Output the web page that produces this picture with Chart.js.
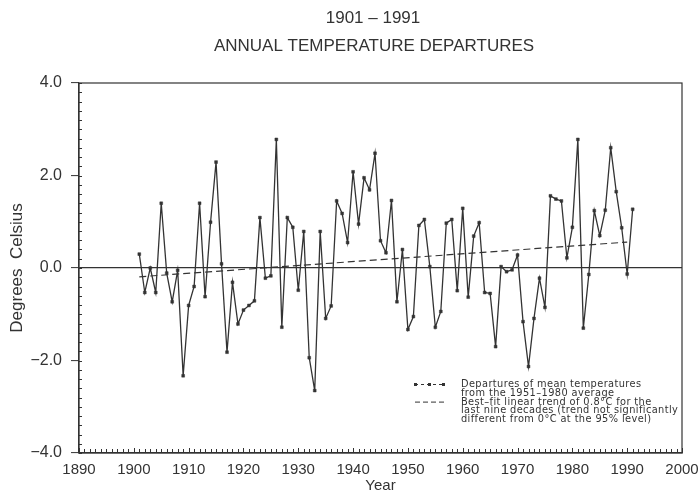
<!DOCTYPE html>
<html>
<head>
<meta charset="utf-8">
<script src="https://cdn.jsdelivr.net/npm/chart.js@4.4.1/dist/chart.umd.min.js"></script>
<style>
  body { margin: 0; background: #fff; }
  canvas { display: block; }
</style>
</head>
<body>
<canvas id="myChart" width="700" height="495"></canvas>
<script>
// 1, 데이터

    // 연도 (1901 ~ 1991)
    let years = [];
    for (let y = 1901; y <= 1991; y++) years.push(y);

    // 1951-1980 평균 대비 연평균기온 편차
    let departures = [
        0.30, -0.53, 0.00, -0.53, 1.40, -0.11, -0.73, -0.05, -2.33, -0.81,
        -0.40, 1.40, -0.62, 0.99, 2.29, 0.09, -1.82, -0.31, -1.21, -0.91,
        -0.81, -0.71, 1.09, -0.22, -0.17, 2.78, -1.28, 1.09, 0.88, -0.48,
        0.79, -1.94, -2.65, 0.79, -1.09, -0.82, 1.45, 1.18, 0.55, 2.08,
        0.95, 1.95, 1.69, 2.48, 0.59, 0.33, 1.46, -0.73, 0.40, -1.33,
        -1.05, 0.92, 1.05, 0.03, -1.28, -0.94, 0.97, 1.05, -0.49, 1.29,
        -0.63, 0.69, 0.98, -0.53, -0.55, -1.70, 0.03, -0.08, -0.04, 0.28,
        -1.16, -2.13, -1.09, -0.22, -0.85, 1.56, 1.49, 1.45, 0.22, 0.88,
        2.78, -1.30, -0.14, 1.24, 0.70, 1.25, 2.60, 1.65, 0.87, -0.13,
        1.27
    ];

    // 선형추세선 양 끝점
    let trendYears = [1901, 1990];
    let trendValues = [-0.19, 0.56];

    // 축 눈금
    let xTicks = [1890, 1900, 1910, 1920, 1930, 1940, 1950, 1960, 1970, 1980, 1990, 2000];
    let yTicks = [-4, -2, 0, 2, 4];

    // 제목, 범례 문구
    let titleLines = ['1901 \u2013 1991', 'ANNUAL TEMPERATURE DEPARTURES'];
    let legendLines = [
        'Departures of mean temperatures',
        'from the 1951\u20131980 average',
        'Best\u2013fit linear trend of 0.8\u00b0C for the',
        'last nine decades (trend not significantly',
        'different from 0\u00b0C at the 95% level)'
    ];

    let ink = '#333';
    let fontFam = "'Liberation Sans', Arial, sans-serif";

// 2, 플러그인 (제목, 테두리, 안쪽 눈금, 범례)

    let framePlugin = {
        id: 'frame',
        afterDraw(chart) {
            let ctx = chart.ctx;
            let a = chart.chartArea;
            let xs = chart.scales.x;
            let ys = chart.scales.y;
            ctx.save();

            // 제목 (그림 중앙보다 조금 오른쪽)
            ctx.fillStyle = ink;
            ctx.font = '17px ' + fontFam;
            ctx.textAlign = 'center';
            ctx.textBaseline = 'middle';
            ctx.fillText(titleLines[0], 373, 18);
            ctx.fillText(titleLines[1], 374, 46);

            ctx.strokeStyle = ink;
            ctx.lineWidth = 1.2;
            ctx.strokeRect(a.left, a.top, a.right - a.left, a.bottom - a.top);

            // 안쪽 작은 눈금
            ctx.lineWidth = 1;
            ctx.beginPath();
            for (let yr = 1890; yr <= 2000; yr++) {
                let px = Math.round(xs.getPixelForValue(yr)) + 0.5;
                let len = yr % 10 === 0 ? 5 : 4;
                ctx.moveTo(px, a.bottom);
                ctx.lineTo(px, a.bottom - len);
            }
            for (let i = -20; i <= 20; i++) {
                let py = Math.round(ys.getPixelForValue(i / 5)) + 0.5;
                ctx.moveTo(a.left, py);
                ctx.lineTo(a.left + 3, py);
            }
            ctx.stroke();

            // 범례
            let lx = 415, ly = 384.5, gap = 8.8;
            ctx.beginPath();
            ctx.setLineDash([3, 3]);
            ctx.moveTo(lx, ly);
            ctx.lineTo(lx + 30, ly);
            ctx.stroke();
            ctx.setLineDash([]);
            [0, 14, 28].forEach(function (d) {
                ctx.fillRect(lx + d - 1, ly - 1.5, 3, 3);
            });
            ctx.beginPath();
            ctx.setLineDash([5, 3]);
            ctx.moveTo(lx, ly + 2 * gap);
            ctx.lineTo(lx + 31, ly + 2 * gap);
            ctx.stroke();
            ctx.setLineDash([]);

            ctx.font = "9.8px 'DejaVu Sans', sans-serif";
            ctx.letterSpacing = '0.4px';
            ctx.textAlign = 'left';
            legendLines.forEach(function (t, i) {
                ctx.fillText(t, 461, ly + i * gap);
            });
            ctx.restore();
        }
    };

// 3, 차트 만들기

    let ctx = document.getElementById('myChart').getContext('2d');
    let newChart = new Chart(ctx, {
        type: 'line',
        data: {
            datasets: [
                {
                    label: 'Departures',
                    data: years.map(function (y, i) { return { x: y, y: departures[i] }; }),
                    borderColor: ink,
                    borderWidth: 1.3,
                    pointStyle: 'rect',
                    pointRadius: 2,
                    pointBackgroundColor: ink,
                    pointBorderColor: ink,
                    pointBorderWidth: 0.5,
                    tension: 0
                },
                {
                    label: 'Trend',
                    data: trendYears.map(function (y, i) { return { x: y, y: trendValues[i] }; }),
                    borderColor: ink,
                    borderWidth: 1.2,
                    borderDash: [7, 4],
                    pointRadius: 0,
                    tension: 0
                }
            ]
        },
        options: {
            responsive: false,
            animation: false,
            devicePixelRatio: 1,
            layout: { padding: { left: 0, right: 18, top: 83, bottom: 0 } },
            plugins: {
                legend: { display: false },
                tooltip: { enabled: false },
                title: { display: false }
            },
            scales: {
                x: {
                    type: 'linear',
                    min: 1890,
                    max: 2000,
                    afterFit: function (s) { s.height = 42; },
                    afterBuildTicks: function (s) { s.ticks = xTicks.map(function (v) { return { value: v }; }); },
                    ticks: {
                        color: ink,
                        font: { family: fontFam, size: 15 },
                        padding: 0,
                        maxRotation: 0,
                        callback: function (v) { return String(v); }
                    },
                    // 바깥 눈금은 안 보이게 (라벨 위치용)
                    grid: { drawOnChartArea: false, drawTicks: true, tickLength: 8, tickColor: 'rgba(0,0,0,0)', color: ink },
                    border: { display: true, color: ink, width: 1.2 },
                    title: {
                        display: true,
                        text: 'Year',
                        color: ink,
                        font: { family: fontFam, size: 15 },
                        padding: { top: 0, bottom: 0 }
                    }
                },
                y: {
                    min: -4,
                    max: 4,
                    afterFit: function (s) { s.width = 79; },
                    afterBuildTicks: function (s) { s.ticks = yTicks.map(function (v) { return { value: v }; }); },
                    ticks: {
                        color: ink,
                        font: { family: fontFam, size: 16 },
                        padding: 9,
                        callback: function (v) { return (v < 0 ? '\u2212' : '') + Math.abs(v).toFixed(1); }
                    },
                    grid: {
                        drawTicks: true,
                        tickLength: 8,
                        tickColor: ink,
                        tickWidth: 1,
                        lineWidth: 1.2,
                        color: function (c) { return c.tick && c.tick.value === 0 ? ink : 'rgba(0,0,0,0)'; }
                    },
                    border: { display: true, color: ink, width: 1.2 },
                    title: {
                        display: true,
                        text: 'Degrees  Celsius',
                        color: ink,
                        font: { family: fontFam, size: 17 },
                        padding: { top: 7, bottom: 0 }
                    }
                }
            }
        },
        plugins: [framePlugin]
    });
</script>
</body>
</html>
